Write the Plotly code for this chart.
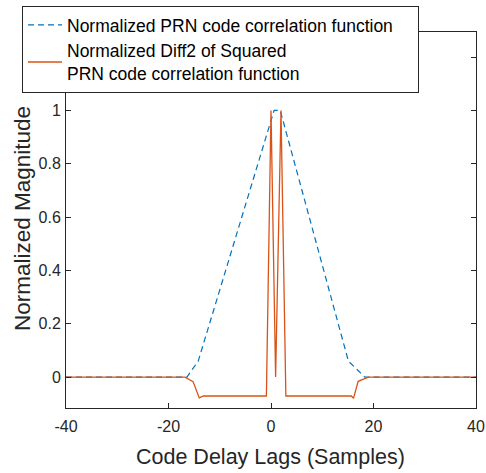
import plotly.graph_objects as go

# Normalized PRN code correlation function (code delay lag in samples)
corr_lag = [-40, -16.4, -14.2, 0.6, 1.8, 15.1, 18.3, 40]
corr_mag = [0, 0, 0.06, 1.0, 1.0, 0.06, 0, 0]

# Normalized second difference of the squared correlation function
diff2_lag = [-40, -16.8, -15.2, -14.0, -13.2, -0.9, 0.0, 0.9, 1.95, 2.9,
             15.7, 16.1, 17.0, 19.0, 40]
diff2_mag = [0, 0, -0.017, -0.078, -0.071, -0.071, 1.0, 0.0, 1.0, -0.071,
             -0.071, -0.08, -0.016, 0, 0]

x_ticks = [-40, -20, 0, 20, 40]
x_tick_text = ["-40", "-20", "0", "20", "40"]
y_ticks = [0, 0.2, 0.4, 0.6, 0.8, 1.0, 1.2]
y_tick_text = ["0", "0.2", "0.4", "0.6", "0.8", "1", "1.2"]

AXIS = "#262626"
FONT = "Liberation Sans, Arial, Helvetica, sans-serif"
W, H = 486, 473
L, R, T, B = 66, 10, 32, 65
PW, PH = W - L - R, H - T - B
PAD = "\u00a0" * 4  # trailing room inside the legend box

fig = go.Figure()
fig.add_trace(go.Scatter(
    x=corr_lag, y=corr_mag, mode="lines",
    name="Normalized PRN code correlation function" + PAD,
    line=dict(color="#0072BD", width=1.2, dash="6px,4px"),
))
fig.add_trace(go.Scatter(
    x=diff2_lag, y=diff2_mag, mode="lines",
    name="Normalized Diff2 of Squared<br>PRN code correlation function",
    line=dict(color="#D95319", width=1.3),
))

# axis titles
fig.add_annotation(
    text="Code Delay Lags (Samples)", xref="paper", yref="paper",
    x=(270.5 - L) / PW, y=-(456.7 - (H - B)) / PH,
    xanchor="center", yanchor="middle", showarrow=False,
    font=dict(size=21.5, color=AXIS),
)
fig.add_annotation(
    text="Normalized Magnitude", xref="paper", yref="paper",
    x=(22 - L) / PW, y=((H - B) - 219) / PH, textangle=-90,
    xanchor="center", yanchor="middle", showarrow=False,
    font=dict(size=22.5, color=AXIS),
)

fig.update_layout(
    width=W, height=H,
    margin=dict(l=L, r=R, t=T, b=B, autoexpand=False),
    paper_bgcolor="white", plot_bgcolor="white",
    font=dict(family=FONT, color=AXIS, size=16),
    showlegend=True,
    legend=dict(
        xref="container", yref="container",
        x=22 / W, y=1 - 6 / H, xanchor="left", yanchor="top",
        bgcolor="white", bordercolor=AXIS, borderwidth=1,
        font=dict(family=FONT, size=17.5, color="black"),
        itemwidth=34, tracegroupgap=0,
    ),
    xaxis=dict(
        range=[-40, 40], tickvals=x_ticks, ticktext=x_tick_text,
        showgrid=False, zeroline=False,
        showline=True, linecolor=AXIS, linewidth=1, mirror="ticks",
        ticks="inside", ticklen=5, tickcolor=AXIS,
        tickfont=dict(size=16), tickangle=0, ticklabelstandoff=4,
    ),
    yaxis=dict(
        range=[-0.116, 1.294], tickvals=y_ticks, ticktext=y_tick_text,
        showgrid=False, zeroline=False,
        showline=True, linecolor=AXIS, linewidth=1, mirror="ticks",
        ticks="inside", ticklen=5, tickcolor=AXIS,
        tickfont=dict(size=16), ticklabelstandoff=1,
    ),
)

fig.write_html("out.html")
